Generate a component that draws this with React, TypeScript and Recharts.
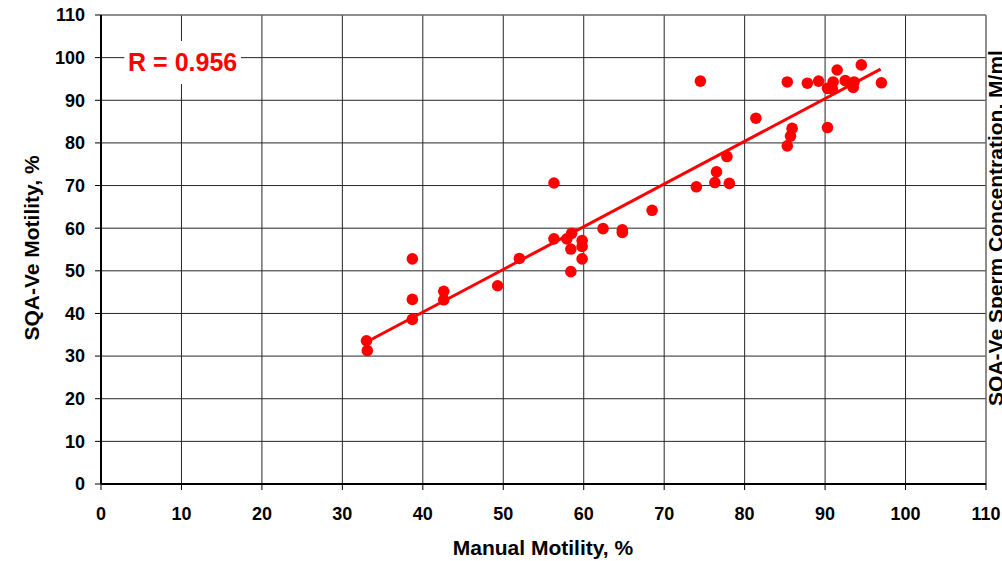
import React from 'react';
import { ScatterChart, Scatter, XAxis, YAxis, CartesianGrid, ReferenceArea, ReferenceLine, Label } from 'recharts';

const manualMotility = [33.0, 33.1, 38.7, 38.7, 38.7, 42.6, 42.6, 49.3, 52.0, 56.3, 56.3, 57.9, 58.5, 58.4, 58.4, 59.8, 59.8, 59.8, 62.4, 64.8, 64.8, 68.5, 74.0, 74.5, 76.3, 76.5, 77.8, 78.1, 81.4, 85.3, 85.7, 85.9, 85.3, 87.8, 89.2, 90.3, 90.3, 90.9, 91.0, 91.5, 92.5, 93.6, 93.5, 94.5, 97.0];
const sqaMotility = [33.6, 31.3, 52.8, 43.3, 38.6, 45.2, 43.2, 46.5, 52.9, 70.6, 57.5, 57.5, 58.8, 55.1, 49.8, 57.1, 55.7, 52.8, 59.9, 59.6, 59.0, 64.2, 69.7, 94.5, 70.7, 73.2, 76.8, 70.5, 85.8, 79.3, 81.6, 83.4, 94.3, 94.0, 94.5, 83.6, 92.8, 92.6, 94.3, 97.1, 94.6, 94.3, 93.0, 98.3, 94.1];

const trendX = [33.0, 96.9];
const trendY = [33.3, 97.3];

const ticks = [0, 10, 20, 30, 40, 50, 60, 70, 80, 90, 100, 110];
const rLabel = 'R = 0.956';
const xTitle = 'Manual Motility, %';
const yTitle = 'SQA-Ve Motility, %';
const y2Title = 'SQA-Ve Sperm Concentration, M/ml';

const points = manualMotility.map((x, i) => ({ x, y: sqaMotility[i] }));
const trend = trendX.map((x, i) => ({ x, y: trendY[i] }));

const FONT = '"Liberation Sans", Arial, Helvetica, sans-serif';
const RED = '#ff0000';

const tickStyle = { fill: '#000', fontSize: 18, fontWeight: 700, fontFamily: FONT };

export default function App() {
  return (
    <div style={{ position: 'absolute', left: 0, top: 0, width: 1002, height: 561, background: '#fff' }}>
      <ScatterChart width={1002} height={561} margin={{ top: 15, right: 16, bottom: 0, left: 0 }}>
        <CartesianGrid stroke="#262626" strokeWidth={1} horizontal={true} vertical={true} />
        <XAxis
          type="number"
          dataKey="x"
          domain={[0, 110]}
          ticks={ticks}
          interval={0}
          height={77}
          tick={tickStyle}
          tickSize={6}
          tickMargin={17}
          axisLine={{ stroke: '#000', strokeWidth: 2 }}
          tickLine={{ stroke: '#000' }}
          allowDataOverflow
        >
          <Label
            content={() => (
              <text x={543} y={555} textAnchor="middle" fontSize={21} fontWeight={700} fontFamily={FONT} fill="#000">
                {xTitle}
              </text>
            )}
          />
        </XAxis>
        <YAxis
          type="number"
          dataKey="y"
          domain={[0, 110]}
          ticks={ticks}
          interval={0}
          width={101}
          tick={tickStyle}
          tickSize={6}
          tickMargin={10}
          axisLine={{ stroke: '#000', strokeWidth: 2 }}
          tickLine={{ stroke: '#000' }}
          allowDataOverflow
        >
          <Label
            content={() => (
              <g>
                <text
                  x={39}
                  y={248}
                  transform="rotate(-90 39 248)"
                  textAnchor="middle"
                  fontSize={21}
                  fontWeight={700}
                  fontFamily={FONT}
                  fill="#000"
                >
                  {yTitle}
                </text>
                <text
                  x={1003}
                  y={228}
                  transform="rotate(-90 1003 228)"
                  textAnchor="middle"
                  fontSize={21}
                  fontWeight={700}
                  fontFamily={FONT}
                  fill="#000"
                >
                  {y2Title}
                </text>
              </g>
            )}
          />
        </YAxis>
        <ReferenceLine y={110} stroke="#888" strokeWidth={1} />
        <ReferenceLine x={110} stroke="#888" strokeWidth={1} />
        <ReferenceArea
          x1={2.9}
          x2={17.4}
          y1={93.8}
          y2={103.9}
          fill="#fff"
          fillOpacity={1}
          stroke="none"
          ifOverflow="visible"
          label={{ value: rLabel, position: 'center', fill: RED, fontSize: 25, fontWeight: 700, fontFamily: FONT }}
        />
        <Scatter data={points} fill={RED} isAnimationActive={false} shape={(p: any) => <circle cx={p.cx} cy={p.cy} r={5.8} fill={RED} />} />
        <Scatter
          data={trend}
          isAnimationActive={false}
          line={{ stroke: RED, strokeWidth: 3 }}
          lineType="joint"
          shape={() => <g />}
        />
      </ScatterChart>
    </div>
  );
}
